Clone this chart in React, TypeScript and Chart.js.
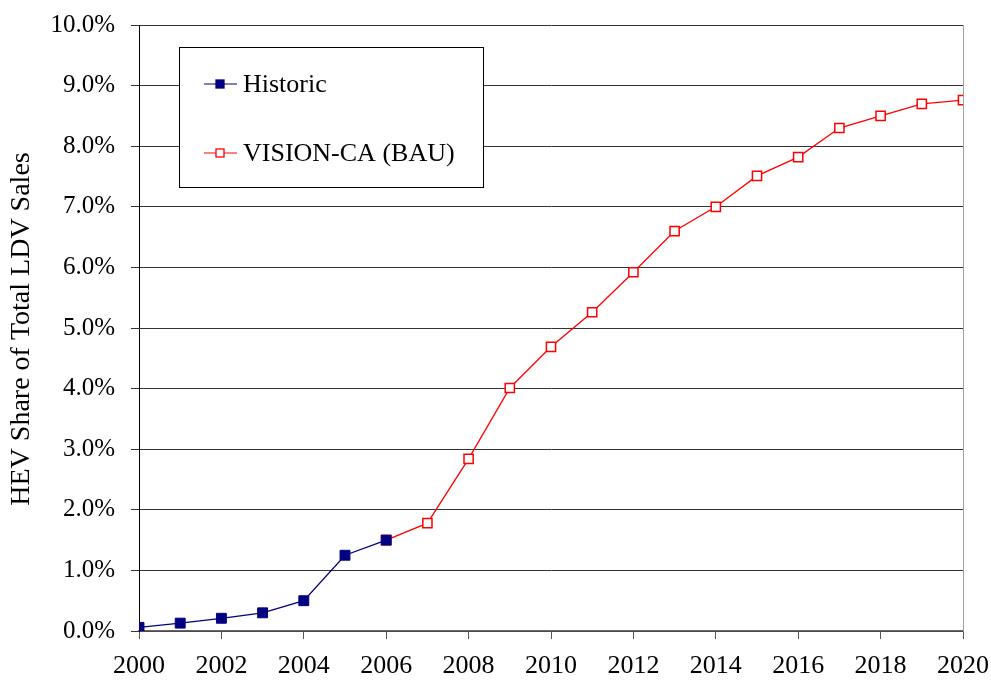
import React, { useEffect, useRef } from "react";
import { Chart, registerables } from "chart.js";

Chart.register(...registerables);

const historicYears = [2000, 2001, 2002, 2003, 2004, 2005, 2006];
const historicValues = [0.06, 0.13, 0.21, 0.3, 0.5, 1.25, 1.5];

const visionYears = [2006, 2007, 2008, 2009, 2010, 2011, 2012, 2013, 2014, 2015, 2016, 2017, 2018, 2019, 2020];
const visionValues = [1.5, 1.78, 2.84, 4.01, 4.69, 5.26, 5.92, 6.6, 7.0, 7.51, 7.82, 8.3, 8.5, 8.7, 8.76];

const seriesLabels = ["Historic", "VISION-CA (BAU)"];
const yAxisTitle = "HEV Share of Total LDV Sales";

const FONT = "'Liberation Serif', 'Times New Roman', serif";

const overlayPlugin = {
  id: "overlay",
  afterDraw(chart: any) {
    const ctx = chart.ctx;
    const area = chart.chartArea;
    ctx.save();
    // right border
    ctx.strokeStyle = "#a0a0a0";
    ctx.lineWidth = 1;
    ctx.beginPath();
    ctx.moveTo(area.right + 0.5, area.top);
    ctx.lineTo(area.right + 0.5, area.bottom);
    ctx.stroke();

    // y title
    ctx.fillStyle = "#000";
    ctx.font = `28px ${FONT}`;
    ctx.textAlign = "center";
    ctx.textBaseline = "middle";
    ctx.translate(22, (area.top + area.bottom) / 2 + 1);
    ctx.rotate(-Math.PI / 2);
    ctx.fillText(yAxisTitle, 0, 0);
    ctx.restore();

    // legend box
    ctx.save();
    const bx = area.left + 40;
    const by = area.top + 22;
    const bw = 304;
    const bh = 140;
    ctx.fillStyle = "#fff";
    ctx.fillRect(bx, by, bw, bh);
    ctx.strokeStyle = "#000";
    ctx.lineWidth = 1;
    ctx.strokeRect(bx + 0.5, by + 0.5, bw, bh);
    const items = [
      { label: seriesLabels[0], color: "#000080", fill: "#000080", y: by + 37 },
      { label: seriesLabels[1], color: "#ff0000", fill: "#ffffff", y: by + 106 },
    ];
    items.forEach((it) => {
      ctx.strokeStyle = it.color;
      ctx.lineWidth = 1.2;
      ctx.beginPath();
      ctx.moveTo(bx + 25, it.y);
      ctx.lineTo(bx + 58, it.y);
      ctx.stroke();
      ctx.fillStyle = it.fill;
      ctx.fillRect(bx + 37, it.y - 4, 8, 8);
      ctx.lineWidth = 1.3;
      ctx.strokeRect(bx + 37, it.y - 4, 8, 8);
      ctx.fillStyle = "#000";
      ctx.font = `26px ${FONT}`;
      ctx.textAlign = "left";
      ctx.textBaseline = "middle";
      ctx.fillText(it.label, bx + 64, it.y + 1);
    });
    ctx.restore();
  },
};

export default function App() {
  const canvasRef = useRef<HTMLCanvasElement | null>(null);

  useEffect(() => {
    const canvas = canvasRef.current;
    if (!canvas) return;
    const chart = new Chart(canvas, {
      type: "line",
      data: {
        datasets: [
          {
            label: seriesLabels[0],
            data: historicYears.map((x, i) => ({ x, y: historicValues[i] })),
            borderColor: "#000080",
            backgroundColor: "#000080",
            borderWidth: 1.3,
            pointStyle: "rect",
            pointRadius: 7,
            pointBorderWidth: 1,
            pointBorderColor: "#000080",
            pointBackgroundColor: "#000080",
          },
          {
            label: seriesLabels[1],
            data: visionYears.map((x, i) => ({ x, y: visionValues[i] })),
            borderColor: "#ff0000",
            backgroundColor: "#ffffff",
            borderWidth: 1.3,
            pointStyle: "rect",
            pointRadius: 6.5,
            pointBorderWidth: 1.5,
            pointBorderColor: "#ff0000",
            pointBackgroundColor: "#ffffff",
          },
        ],
      },
      options: {
        animation: false,
        responsive: false,
        maintainAspectRatio: false,
        layout: { padding: { left: 0, right: 28, top: 25, bottom: 0 } },
        plugins: {
          legend: { display: false },
          tooltip: { enabled: false },
        },
        scales: {
          x: {
            type: "linear",
            min: 2000,
            max: 2020,
            afterFit: (s: any) => {
              s.height = 52;
              s.paddingLeft = 0;
              s.paddingRight = 0;
            },
            ticks: {
              stepSize: 2,
              color: "#000",
              font: { family: FONT, size: 26 },
              padding: 12,
              maxRotation: 0,
              autoSkip: false,
              callback: (v: any) => String(v),
            },
            grid: {
              drawOnChartArea: false,
              drawTicks: true,
              tickLength: 8,
              color: "#555",
            },
            border: { color: "#666", width: 1.5 },
          },
          y: {
            min: 0,
            max: 10,
            afterFit: (s: any) => {
              s.width = 139;
              s.paddingTop = 0;
              s.paddingBottom = 0;
            },
            ticks: {
              stepSize: 1,
              color: "#000",
              font: { family: FONT, size: 25 },
              padding: 16,
              callback: (v: any) => Number(v).toFixed(1) + "%",
            },
            grid: {
              color: "#333",
              lineWidth: 1,
              tickLength: 8,
            },
            border: { color: "#000", width: 1 },
          },
        },
      },
      plugins: [overlayPlugin],
    });
    return () => chart.destroy();
  }, []);

  return (
    <div style={{ position: "fixed", left: 0, top: 0, width: 991, height: 683, background: "#fff" }}>
      <canvas ref={canvasRef} width={991} height={683} style={{ width: 991, height: 683, display: "block" }} />
    </div>
  );
}
